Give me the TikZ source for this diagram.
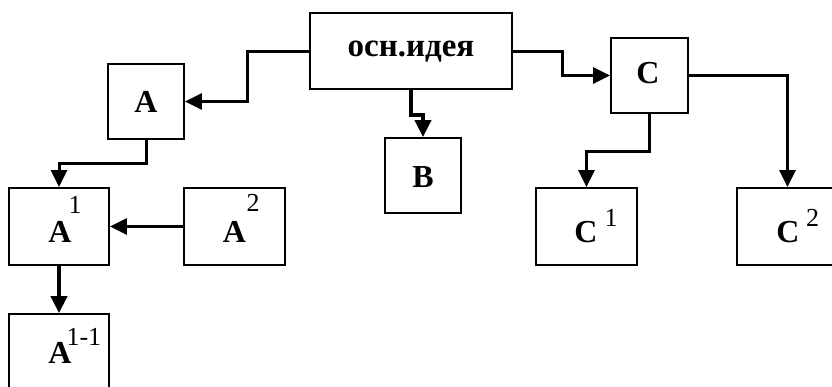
\documentclass[tikz,border=0pt]{standalone}
\usepackage{fontspec}
\setmainfont{Liberation Serif}
\usetikzlibrary{arrows.meta}
\newcommand\mysup[3]{\rlap{\kern#1pt\raisebox{#2pt}{\fontsize{26}{30}\selectfont\mdseries #3}}}
\begin{document}
\begin{tikzpicture}[x=1pt,y=-1pt,
  box/.style={draw, line width=1.8pt, inner sep=0pt, minimum height=75pt},
  lbl/.style={anchor=base, inner sep=0pt, font=\fontsize{32}{36}\selectfont\bfseries},
  arr/.style={line width=3pt, -{Triangle[length=17pt,width=16pt]}},
  thick arr/.style={arr, line width=4pt}]
\useasboundingbox (0,0) rectangle (832,386);
\clip (0,0) rectangle (832,386);
% boxes
\node[box, minimum width=202pt, minimum height=76pt] (main) at (411,51) {};
\node[box, minimum width=76pt] (A) at (146,101.5) {};
\node[box, minimum width=76pt] (B) at (423,175.5) {};
\node[box, minimum width=77pt] (C) at (649.5,75.5) {};
\node[box, minimum width=100pt, minimum height=77pt] (A1) at (59,226.5) {};
\node[box, minimum width=101pt, minimum height=77pt] (A2) at (234.5,226.5) {};
\node[box, minimum width=101pt, minimum height=77pt] (C1) at (586.5,226.5) {};
\node[box, minimum width=101pt, minimum height=77pt] (C2) at (787.5,226.5) {};
\node[box, minimum width=100pt, minimum height=77pt] (A11) at (59,352.5) {};
% labels
\node[lbl, font=\fontsize{33}{36}\selectfont\bfseries] (tmain) at (411,56) {осн.идея};
\node[lbl] (tA) at (146,112) {A};
\node[lbl] (tB) at (423,187) {B};
\node[lbl] (tC) at (648,83) {C};
\node[lbl] (tA1) at (60,242) {A\mysup{-3}{29}{1}};
\node[lbl] (tA2) at (234.5,242) {A\mysup{0.5}{31}{2}};
\node[lbl] (tC1) at (586,242) {C\mysup{7}{16}{1}};
\node[lbl] (tC2) at (788,242) {C\mysup{6.5}{16}{2}};
\node[lbl] (tA11) at (60,363) {A\mysup{-5}{18}{1-1}};
% connectors
\draw[arr] (main.west) -- ++(-62,0) |- (A.east);
\draw[thick arr] (main.south) -- ++(0,25) -| (B.north);
\draw[arr] (main.east) -- ++(50,0) |- (C.west);
\draw[arr] (C.south) -- ++(0,38) -| (C1.north);
\draw[arr] (C.east) -| (C2.north);
\draw[arr] (A.south) -- ++(0,24) -| (A1.north);
\draw[arr] (A2.west) -- (A1.east);
\draw[thick arr] (A1.south) -- (A11.north);
\end{tikzpicture}
\end{document}
